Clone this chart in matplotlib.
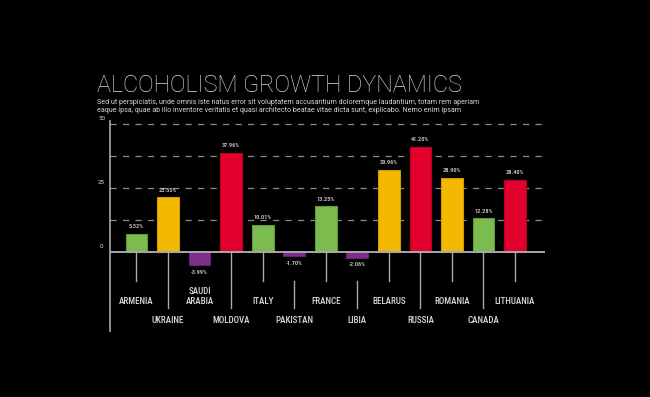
import matplotlib
matplotlib.use('Agg')
import numpy as np
from matplotlib import pyplot as plt
from matplotlib import font_manager as fm

countries = ['ARMENIA', 'UKRAINE', 'SAUDI\nARABIA', 'MOLDOVA', 'ITALY', 'PAKISTAN', 'FRANCE',
             'LIBIA', 'BELARUS', 'RUSSIA', 'ROMANIA', 'CANADA', 'LITHUANIA']
# bar heights as drawn in the picture
heights = [6.9, 21.2, -5.3, 38.7, 10.5, -1.7, 17.7, -2.3, 31.8, 41.0, 28.8, 13.0, 28.0]
# printed values above / below the bars
value_labels = ['5.32%', '23.55%', '-3.99%', '37.96%', '10.01%', '-1.70%', '13.25%',
                '-2.06%', '30.96%', '41.20%', '28.90%', '12.28%', '28.40%']
color_group = ['green', 'yellow', 'purple', 'red', 'green', 'purple', 'green',
               'purple', 'yellow', 'red', 'yellow', 'green', 'red']
y_ticks = [0, 25, 50]
grid_levels = [12.5, 25, 37.5, 50]

title = 'ALCOHOLISM GROWTH DYNAMICS'
subtitle = ('Sed ut perspiciatis, unde omnis iste natus error sit voluptatem accusantium doloremque laudantium, totam rem aperiam\n'
            'eaque ipsa, quae ab illo inventore veritatis et quasi architecto beatae vitae dicta sunt, explicabo. Nemo enim ipsam')

palette = {'green': '#7cbb4e', 'yellow': '#f4b800', 'purple': '#7e2f8e', 'red': '#e2002c'}
edge = {'green': '#5f9a38', 'yellow': '#d09c00', 'purple': '#62206f', 'red': '#b80022'}

bg = '#000000'
axis_col = '#a8a8a8'
text_col = '#d6d6d6'

# pick a condensed face for the country names if one is around
installed = {f.name for f in fm.fontManager.ttflist}
narrow = 'Liberation Sans'
for cand in ['Roboto Condensed', 'Liberation Sans Narrow', 'Arial Narrow', 'PT Sans Narrow',
             'Open Sans Condensed', 'Archivo Narrow', 'Encode Sans Condensed']:
    if cand in installed:
        narrow = cand
        break

fig = plt.figure(figsize=(6.5, 3.97), dpi=100, facecolor=bg)
ax = fig.add_axes([110 / 650, 66 / 397, 435 / 650, 210 / 397], facecolor=bg)

x = np.arange(len(countries))
cols = [palette[c] for c in color_group]
ecols = [edge[c] for c in color_group]
ax.bar(x, heights, width=0.69, color=cols, edgecolor=ecols, linewidth=0.8, zorder=3)

ax.set_xlim(-0.84, len(countries) - 1 + 0.95)
ax.set_ylim(-30.95, 51.05)

for g in grid_levels:
    ax.axhline(g, color='#8a8a8a', lw=0.9, ls=(0, (5, 5)), zorder=1)
ax.axhline(0, color=axis_col, lw=1.4, zorder=4)

ax.spines['left'].set_color(axis_col)
ax.spines['left'].set_linewidth(1.2)
for s in ['top', 'right', 'bottom']:
    ax.spines[s].set_visible(False)
ax.set_xticks([])
ax.set_yticks([])

for t in y_ticks:
    ax.annotate(str(t), xy=(0, t), xycoords=('axes fraction', 'data'), xytext=(-6, 2),
                textcoords='offset points', ha='center', va='bottom', fontsize=4.5,
                color=text_col, family='Roboto')

for i, (h, lab) in enumerate(zip(heights, value_labels)):
    if h >= 0:
        ax.annotate(lab, xy=(i, h), xytext=(0, 3.5), textcoords='offset points', ha='center',
                    va='bottom', fontsize=4.5, color=text_col, family=narrow, fontweight='medium')
    else:
        ax.annotate(lab, xy=(i, h), xytext=(0, -3.5), textcoords='offset points', ha='center',
                    va='top', fontsize=4.5, color=text_col, family=narrow, fontweight='medium')

# size the names so LITHUANIA comes out about 41 px wide, like the original
probe = fig.text(0, 0, 'LITHUANIA', fontsize=10, family=narrow, fontweight='medium')
w = probe.get_window_extent(renderer=fig.canvas.get_renderer()).width
probe.remove()
name_size = min(10 * 40.7 / w, 7.4)

# leader lines and country names, alternating rows
for i, (name, h) in enumerate(zip(countries, heights)):
    long_row = i % 2 == 1
    bottom = -22.0 if long_row else -11.4
    top = 0 if h >= 0 else -11.4
    if top > bottom:
        ax.plot([i, i], [top, bottom], color=axis_col, lw=1.0, zorder=2)
    if long_row:
        ypos = -27.0
    elif '\n' in name:
        ypos = -17.4
    else:
        ypos = -19.6
    ax.text(i, ypos, name, ha='center', va='center', fontsize=name_size, color=text_col,
            family=narrow, fontweight='medium', linespacing=1.2)

fig.text(97 / 650, 1 - 92 / 397, title, ha='left', va='baseline', fontsize=16.8,
         fontweight='light', family='Roboto', color='#d8d8d8')
fig.text(97 / 650, 1 - 99 / 397, subtitle, ha='left', va='top', fontsize=5.1,
         family='Roboto', color=text_col, linespacing=1.3)

fig.savefig('out.png', dpi=100, facecolor=bg)
